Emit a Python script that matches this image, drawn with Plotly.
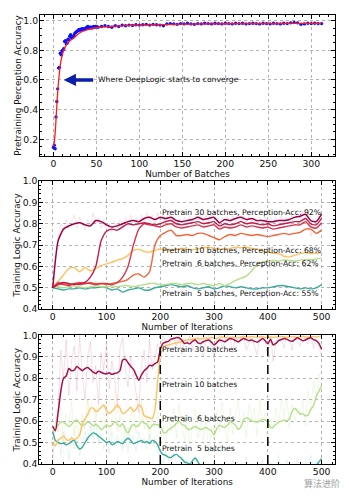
import numpy as np
import plotly.graph_objects as go

# ---------------- Panel 1: pretraining perception accuracy ----------------
batches_early = list(range(0, 51))
acc_early = [0.145, 0.16, 0.136, 0.35, 0.455, 0.54, 0.68, 0.685, 0.78, 0.77,
             0.795, 0.80, 0.81, 0.86, 0.865, 0.845, 0.85, 0.875, 0.87, 0.895,
             0.905, 0.885, 0.89, 0.89, 0.90, 0.915, 0.92, 0.925, 0.93, 0.935,
             0.94, 0.935, 0.94, 0.945, 0.94, 0.945, 0.94, 0.945, 0.95, 0.955,
             0.96, 0.955, 0.95, 0.955, 0.955, 0.95, 0.955, 0.96, 0.955, 0.96,
             0.96]
batches_late = list(range(52, 313, 4))
acc_late = [0.955, 0.96, 0.965, 0.96, 0.955, 0.965, 0.96, 0.97, 0.965, 0.97,
            0.968, 0.972, 0.97, 0.972, 0.975, 0.97, 0.975, 0.972, 0.97, 0.965,
            0.978, 0.98, 0.978, 0.975, 0.98, 0.978, 0.982, 0.978, 0.975, 0.98,
            0.978, 0.982, 0.98, 0.978, 0.982, 0.98, 0.978, 0.982, 0.98, 0.978,
            0.982, 0.98, 0.982, 0.978, 0.98, 0.982, 0.98, 0.978, 0.982, 0.98,
            0.978, 0.982, 0.98, 0.978, 0.982, 0.98, 0.985, 0.988, 0.985, 0.975,
            0.978, 0.982, 0.98, 0.982, 0.98, 0.98]
assert len(acc_early) == len(batches_early) and len(acc_late) == len(batches_late)

smooth_batches = [0, 1, 2, 3, 4, 5, 6, 7, 8, 9, 10, 12, 14, 16, 18, 20, 22, 25,
                  28, 30, 33, 36, 40, 45, 50, 55, 60, 70, 80, 90, 100, 120, 140,
                  160, 180, 200, 220, 240, 260, 280, 300, 312]
smooth_acc = [0.15, 0.18, 0.24, 0.33, 0.43, 0.52, 0.59, 0.65, 0.70, 0.735,
              0.76, 0.80, 0.825, 0.845, 0.858, 0.868, 0.876, 0.89, 0.905, 0.915,
              0.925, 0.932, 0.94, 0.947, 0.952, 0.955, 0.958, 0.962, 0.965, 0.968,
              0.97, 0.972, 0.975, 0.977, 0.978, 0.979, 0.98, 0.98, 0.98, 0.982,
              0.981, 0.981]

converge_point = (12, 0.6)
converge_text_x = 48

# ---------------- Panel 2: logic accuracy, pretrained perception ----------------
iters10 = np.arange(0, 501, 10)
p2_30 = [0.50, 0.72, 0.775, 0.79, 0.80, 0.805, 0.795, 0.79, 0.815, 0.81,
         0.795, 0.785, 0.79, 0.80, 0.81, 0.815, 0.81, 0.825, 0.83, 0.82,
         0.83, 0.825, 0.83, 0.815, 0.81, 0.815, 0.82, 0.83, 0.82, 0.825,
         0.83, 0.805, 0.82, 0.815, 0.825, 0.83, 0.82, 0.825, 0.815, 0.815,
         0.81, 0.81, 0.815, 0.815, 0.82, 0.83, 0.835, 0.845, 0.815, 0.81,
         0.845]
p2_20 = [0.50, 0.515, 0.525, 0.52, 0.515, 0.52, 0.525, 0.55, 0.60, 0.72,
         0.765, 0.775, 0.77, 0.785, 0.80, 0.795, 0.80, 0.805, 0.80, 0.795,
         0.80, 0.81, 0.815, 0.80, 0.795, 0.80, 0.805, 0.81, 0.80, 0.805,
         0.81, 0.79, 0.80, 0.795, 0.80, 0.81, 0.80, 0.805, 0.80, 0.795,
         0.80, 0.79, 0.795, 0.80, 0.805, 0.81, 0.81, 0.825, 0.80, 0.795,
         0.825]
p2_15 = [0.50, 0.52, 0.515, 0.51, 0.52, 0.515, 0.52, 0.52, 0.515, 0.52,
         0.52, 0.515, 0.525, 0.55, 0.60, 0.70, 0.775, 0.80, 0.795, 0.79,
         0.785, 0.795, 0.80, 0.785, 0.78, 0.785, 0.79, 0.795, 0.785, 0.79,
         0.795, 0.775, 0.785, 0.78, 0.785, 0.795, 0.785, 0.79, 0.785, 0.78,
         0.785, 0.775, 0.78, 0.785, 0.79, 0.795, 0.795, 0.81, 0.785, 0.78,
         0.805]
p2_8 = [0.50, 0.525, 0.52, 0.515, 0.52, 0.525, 0.52, 0.525, 0.52, 0.52,
        0.515, 0.52, 0.525, 0.53, 0.54, 0.56, 0.565, 0.55, 0.575, 0.70,
        0.745, 0.76, 0.77, 0.745, 0.745, 0.75, 0.745, 0.755, 0.755, 0.745,
        0.735, 0.725, 0.74, 0.75, 0.745, 0.755, 0.75, 0.745, 0.75, 0.745,
        0.74, 0.745, 0.75, 0.755, 0.75, 0.755, 0.76, 0.775, 0.775, 0.755,
        0.77]
p2_10 = [0.50, 0.53, 0.56, 0.59, 0.595, 0.575, 0.595, 0.58, 0.59, 0.605,
         0.612, 0.62, 0.63, 0.637, 0.652, 0.675, 0.68, 0.67, 0.667, 0.675,
         0.682, 0.678, 0.675, 0.68, 0.685, 0.68, 0.678, 0.683, 0.688, 0.69,
         0.685, 0.68, 0.682, 0.685, 0.69, 0.688, 0.69, 0.685, 0.68, 0.672,
         0.668, 0.662, 0.66, 0.648, 0.645, 0.652, 0.66, 0.665, 0.66, 0.662,
         0.665]
p2_6 = [0.50, 0.505, 0.50, 0.505, 0.51, 0.505, 0.50, 0.505, 0.51, 0.505,
        0.505, 0.51, 0.505, 0.51, 0.51, 0.505, 0.51, 0.515, 0.52, 0.52,
        0.515, 0.515, 0.52, 0.52, 0.515, 0.52, 0.52, 0.515, 0.52, 0.515,
        0.51, 0.52, 0.51, 0.52, 0.535, 0.545, 0.555, 0.58, 0.61, 0.62,
        0.625, 0.628, 0.625, 0.63, 0.628, 0.625, 0.63, 0.632, 0.632, 0.635,
        0.64]
p2_5 = [0.50, 0.495, 0.49, 0.495, 0.495, 0.50, 0.495, 0.50, 0.50, 0.505,
        0.50, 0.49, 0.495, 0.48, 0.49, 0.495, 0.50, 0.49, 0.49, 0.50,
        0.505, 0.51, 0.515, 0.51, 0.505, 0.51, 0.50, 0.495, 0.50, 0.505,
        0.495, 0.50, 0.51, 0.505, 0.50, 0.505, 0.50, 0.495, 0.495, 0.50,
        0.50, 0.505, 0.51, 0.51, 0.505, 0.50, 0.495, 0.50, 0.495, 0.50,
        0.515]

iters5 = np.arange(0, 501, 5)
p2_30_raw = [0.50, 0.62, 0.74, 0.80, 0.76, 0.82, 0.78, 0.81, 0.84, 0.78,
             0.83, 0.80, 0.77, 0.82, 0.79, 0.85, 0.80, 0.83, 0.78, 0.82,
             0.77, 0.80, 0.76, 0.81, 0.78, 0.82, 0.79, 0.83, 0.80, 0.84,
             0.79, 0.83, 0.80, 0.84, 0.81, 0.85, 0.81, 0.84, 0.80, 0.85,
             0.81, 0.84, 0.80, 0.86, 0.81, 0.83, 0.79, 0.82, 0.80, 0.83,
             0.79, 0.84, 0.81, 0.83, 0.82, 0.85, 0.80, 0.84, 0.81, 0.85,
             0.82, 0.79, 0.78, 0.83, 0.80, 0.83, 0.80, 0.84, 0.81, 0.85,
             0.81, 0.84, 0.80, 0.84, 0.81, 0.83, 0.80, 0.83, 0.80, 0.83,
             0.79, 0.83, 0.80, 0.83, 0.80, 0.84, 0.80, 0.83, 0.81, 0.84,
             0.82, 0.85, 0.82, 0.86, 0.83, 0.86, 0.74, 0.80, 0.78, 0.84,
             0.85]

p2_labels = [
    ("Pretrain 30 batches, Perception-Acc: 92%", 0.853),
    ("Pretrain 10 batches, Perception-Acc: 68%", 0.673),
    ("Pretrain  6 batches, Perception-Acc: 62%", 0.614),
    ("Pretrain  5 batches, Perception-Acc: 55%", 0.473),
]

# ---------------- Panel 3: logic accuracy, joint training ----------------
p3_30 = [0.575, 0.555, 0.64, 0.74, 0.80, 0.81, 0.845, 0.835, 0.838, 0.855,
         0.845, 0.835, 0.845, 0.85, 0.84, 0.828, 0.822, 0.832, 0.828, 0.822,
         0.82, 0.825, 0.818, 0.822, 0.825, 0.835, 0.885, 0.888, 0.872, 0.855,
         0.842, 0.815, 0.79, 0.815, 0.835, 0.845, 0.86, 0.858, 0.868, 0.875,
         0.935, 0.962, 0.968, 0.972, 0.982, 0.985, 0.99, 0.988, 0.978, 0.962,
         0.965, 0.96, 0.972, 0.978, 0.965, 0.962, 0.97, 0.975, 0.978, 0.968,
         0.955, 0.965, 0.978, 0.975, 0.97, 0.978, 0.985, 0.982, 0.975, 0.97,
         0.978, 0.985, 0.98, 0.975, 0.978, 0.972, 0.968, 0.975, 0.985, 0.975,
         0.96, 0.982, 0.955, 0.962, 0.975, 0.98, 0.985, 0.982, 0.975, 0.972,
         0.98, 0.988, 0.982, 0.975, 0.978, 0.985, 0.988, 0.98, 0.975, 0.962,
         0.935]
p3_10 = [0.50, 0.485, 0.51, 0.52, 0.53, 0.515, 0.51, 0.52, 0.515, 0.52,
         0.535, 0.585, 0.61, 0.63, 0.66, 0.66, 0.645, 0.65, 0.665, 0.675,
         0.65, 0.635, 0.645, 0.66, 0.675, 0.66, 0.635, 0.64, 0.652, 0.665,
         0.645, 0.655, 0.675, 0.665, 0.625, 0.62, 0.615, 0.612, 0.65, 0.78,
         0.905, 0.94, 0.952, 0.955, 0.958, 0.962, 0.965, 0.968, 0.97, 0.975,
         0.978, 0.98, 0.982, 0.985, 0.985, 0.982, 0.986, 0.988, 0.985, 0.99,
         0.988, 0.985, 0.99, 0.992, 0.99, 0.988, 0.99, 0.992, 0.99, 0.988,
         0.992, 0.994, 0.99, 0.992, 0.994, 0.992, 0.99, 0.992, 0.994, 0.99,
         0.988, 0.992, 0.99, 0.992, 0.994, 0.995, 0.993, 0.99, 0.992, 0.994,
         0.992, 0.99, 0.993, 0.995, 0.992, 0.99, 0.993, 0.995, 0.992, 0.995,
         0.997]
p3_6 = [0.55, 0.565, 0.58, 0.595, 0.595, 0.585, 0.575, 0.585, 0.60, 0.605,
        0.59, 0.578, 0.585, 0.595, 0.59, 0.578, 0.585, 0.575, 0.56, 0.57,
        0.582, 0.575, 0.58, 0.598, 0.585, 0.575, 0.588, 0.56, 0.545, 0.57,
        0.585, 0.575, 0.58, 0.60, 0.592, 0.585, 0.565, 0.58, 0.585, 0.582,
        0.58, 0.55, 0.545, 0.56, 0.568, 0.575, 0.59, 0.598, 0.585, 0.58,
        0.565, 0.56, 0.57, 0.575, 0.568, 0.56, 0.565, 0.57, 0.562, 0.555,
        0.535, 0.565, 0.58, 0.575, 0.57, 0.582, 0.595, 0.59, 0.58, 0.56,
        0.575, 0.605, 0.615, 0.61, 0.60, 0.598, 0.595, 0.60, 0.608, 0.605,
        0.595, 0.57, 0.572, 0.585, 0.595, 0.60, 0.605, 0.602, 0.61, 0.645,
        0.66, 0.648, 0.632, 0.635, 0.625, 0.628, 0.655, 0.672, 0.715, 0.74,
        0.765]
p3_5 = [0.55, 0.51, 0.50, 0.495, 0.497, 0.49, 0.495, 0.505, 0.51, 0.485,
        0.47, 0.478, 0.50, 0.52, 0.535, 0.545, 0.54, 0.53, 0.52, 0.51,
        0.50, 0.505, 0.49, 0.495, 0.505, 0.50, 0.495, 0.51, 0.52, 0.51,
        0.495, 0.50, 0.505, 0.51, 0.50, 0.505, 0.495, 0.51, 0.505, 0.49,
        0.46, 0.445, 0.44, 0.432, 0.43, 0.44, 0.445, 0.435, 0.425, 0.41,
        0.405, 0.40, 0.415, 0.428, 0.41, 0.39, 0.38, 0.375, 0.38, 0.37,
        0.365, 0.37, 0.375, 0.37, 0.365, 0.37, 0.375, 0.37, 0.365, 0.37,
        0.375, 0.38, 0.375, 0.37, 0.375, 0.38, 0.385, 0.38, 0.375, 0.37,
        0.375, 0.38, 0.385, 0.38, 0.375, 0.38, 0.385, 0.39, 0.385, 0.38,
        0.375, 0.38, 0.385, 0.38, 0.375, 0.38, 0.385, 0.39, 0.395, 0.41,
        0.425]

p3_30_raw = [0.42, 0.58, 0.66, 0.93, 0.80, 0.98, 0.72, 0.88, 0.95, 0.74,
             1.00, 0.82, 0.70, 0.90, 0.97, 0.78, 0.86, 0.68, 0.92, 0.84,
             0.96, 0.75, 0.88, 0.80, 0.66, 0.94, 0.99, 0.85, 0.76, 0.90,
             0.82, 0.72, 0.64, 0.86, 0.93, 0.78, 0.98, 0.84, 0.90, 0.96,
             0.92, 1.00, 0.97, 0.94, 1.00, 0.99, 0.95, 1.00, 0.91, 0.98,
             0.96, 1.00, 0.93, 0.99, 1.00, 0.95, 0.90, 0.98, 1.00, 0.96,
             0.89, 0.99, 1.00, 0.94, 0.97, 1.00, 0.98, 0.92, 1.00, 0.96,
             0.99, 1.00, 0.93, 0.97, 1.00, 0.95, 0.91, 0.99, 1.00, 0.97,
             0.90, 1.00, 0.88, 0.96, 1.00, 0.98, 0.94, 1.00, 0.99, 0.93,
             1.00, 0.97, 0.95, 1.00, 0.99, 0.96, 1.00, 0.94, 0.98, 0.95,
             0.90]
p3_10_raw = [0.46, 0.53, 0.50, 0.57, 0.45, 0.55, 0.52, 0.48, 0.58, 0.50,
             0.56, 0.62, 0.58, 0.70, 0.64, 0.72, 0.60, 0.68, 0.73, 0.62,
             0.58, 0.70, 0.66, 0.74, 0.63, 0.68, 0.57, 0.66, 0.71, 0.62,
             0.60, 0.70, 0.73, 0.64, 0.58, 0.66, 0.55, 0.63, 0.68, 0.86,
             0.93, 0.98, 0.95, 1.00, 0.96, 0.99, 0.97, 1.00, 0.96, 1.00,
             0.98, 0.99, 0.97, 1.00, 0.98, 1.00, 0.97, 0.99, 1.00, 0.98,
             0.99, 1.00, 0.97, 1.00, 0.99, 0.98, 1.00, 0.99, 0.97, 1.00,
             0.99, 1.00, 0.98, 1.00, 0.99, 0.97, 1.00, 0.99, 1.00, 0.98,
             1.00, 0.99, 0.98, 1.00, 0.99, 1.00, 0.97, 1.00, 0.99, 1.00,
             0.98, 1.00, 0.99, 1.00, 0.98, 1.00, 0.99, 1.00, 0.98, 1.00,
             0.99]
p3_6_raw = [0.52, 0.60, 0.55, 0.66, 0.50, 0.63, 0.58, 0.69, 0.53, 0.61,
            0.47, 0.64, 0.56, 0.70, 0.60, 0.52, 0.66, 0.49, 0.62, 0.57,
            0.67, 0.51, 0.60, 0.69, 0.55, 0.63, 0.48, 0.58, 0.45, 0.62,
            0.66, 0.54, 0.60, 0.70, 0.56, 0.63, 0.50, 0.61, 0.57, 0.64,
            0.48, 0.58, 0.46, 0.62, 0.55, 0.66, 0.52, 0.68, 0.59, 0.50,
            0.63, 0.47, 0.58, 0.65, 0.52, 0.60, 0.49, 0.62, 0.44, 0.57,
            0.51, 0.64, 0.55, 0.69, 0.58, 0.50, 0.66, 0.54, 0.62, 0.70,
            0.56, 0.64, 0.52, 0.68, 0.60, 0.66, 0.53, 0.70, 0.59, 0.64,
            0.50, 0.61, 0.56, 0.66, 0.58, 0.70, 0.62, 0.72, 0.57, 0.68,
            0.60, 0.66, 0.63, 0.70, 0.58, 0.74, 0.65, 0.79, 0.70, 0.82,
            0.74]
p3_5_raw = [0.56, 0.48, 0.52, 0.44, 0.55, 0.50, 0.42, 0.53, 0.47, 0.51,
            0.44, 0.49, 0.55, 0.50, 0.58, 0.53, 0.59, 0.50, 0.54, 0.47,
            0.52, 0.45, 0.55, 0.48, 0.53, 0.50, 0.46, 0.54, 0.57, 0.49,
            0.53, 0.46, 0.55, 0.50, 0.52, 0.47, 0.54, 0.49, 0.52, 0.45,
            0.44, 0.40, 0.46, 0.42, 0.38, 0.45, 0.41, 0.37, 0.43, 0.39,
            0.42, 0.36, 0.40, 0.44, 0.35, 0.39, 0.42, 0.34, 0.38, 0.36,
            0.41, 0.33, 0.38, 0.35, 0.40, 0.34, 0.37, 0.42, 0.33, 0.36,
            0.39, 0.34, 0.43, 0.35, 0.38, 0.33, 0.40, 0.36, 0.42, 0.34,
            0.37, 0.41, 0.35, 0.39, 0.44, 0.36, 0.38, 0.42, 0.35, 0.40,
            0.37, 0.43, 0.36, 0.39, 0.41, 0.37, 0.44, 0.38, 0.42, 0.40,
            0.45]

p3_labels = [
    ("Pretrain 30 batches", 0.936),
    ("Pretrain 10 batches", 0.772),
    ("Pretrain  6 batches", 0.612),
    ("Pretrain  5 batches", 0.473),
]
phase_marks = [200, 400]
label_x = 200

for arr in (p2_30, p2_20, p2_15, p2_8, p2_10, p2_6, p2_5):
    assert len(arr) == len(iters10)
for arr in (p2_30_raw, p3_30, p3_10, p3_6, p3_5,
            p3_30_raw, p3_10_raw, p3_6_raw, p3_5_raw):
    assert len(arr) == len(iters5), len(arr)

# ---------------- styling ----------------
FONT = "DejaVu Sans"
C30, C20, C15, C8 = "#9e0142", "#c51b4b", "#d8344c", "#f46438"
C10, C6, C5 = "#fdc262", "#b5df8a", "#3aaa9c"

fig = go.Figure()


def line(x, y, color, width, xa, ya, shape="spline"):
    fig.add_trace(go.Scatter(x=x, y=y, mode="lines", xaxis=xa, yaxis=ya,
                             line=dict(color=color, width=width, shape=shape,
                                       smoothing=0.6),
                             showlegend=False, hoverinfo="skip"))


# panel 1
fig.add_trace(go.Scatter(x=batches_early + batches_late, y=acc_early + acc_late,
                         mode="markers", xaxis="x", yaxis="y",
                         marker=dict(color="#1010ff", size=3.4),
                         showlegend=False))
line(smooth_batches, smooth_acc, "#ff1a1a", 1.3, "x", "y")

# panel 2
line(iters5, p2_30_raw, "rgba(205,80,120,0.2)", 0.8, "x2", "y2", shape="linear")
line(iters10, p2_5, C5, 1.4, "x2", "y2")
line(iters10, p2_6, C6, 1.4, "x2", "y2")
line(iters10, p2_10, C10, 1.4, "x2", "y2")
line(iters10, p2_8, C8, 1.4, "x2", "y2")
line(iters10, p2_15, C15, 1.4, "x2", "y2")
line(iters10, p2_20, C20, 1.4, "x2", "y2")
line(iters10, p2_30, C30, 1.5, "x2", "y2")

# panel 3
line(iters5, p3_5_raw, "rgba(58,170,156,0.15)", 0.8, "x3", "y3", shape="linear")
line(iters5, p3_6_raw, "rgba(181,223,138,0.25)", 0.8, "x3", "y3", shape="linear")
line(iters5, p3_10_raw, "rgba(253,194,98,0.15)", 0.8, "x3", "y3", shape="linear")
line(iters5, p3_30_raw, "rgba(200,70,120,0.22)", 0.8, "x3", "y3", shape="linear")
line(iters5, p3_5, C5, 1.4, "x3", "y3")
line(iters5, p3_6, C6, 1.4, "x3", "y3")
line(iters5, p3_10, C10, 1.4, "x3", "y3")
line(iters5, p3_30, "#a50f4a", 1.5, "x3", "y3")

common = dict(showline=True, linecolor="black", linewidth=1, mirror="ticks",
              ticks="inside", ticklen=4, tickwidth=0.8, tickcolor="black",
              showgrid=True, gridcolor="#b3b3b3", griddash="dot", gridwidth=0.8,
              zeroline=False, ticklabelstandoff=-1,
              tickfont=dict(family=FONT, size=9.3, color="#111"))
title_font = dict(family=FONT, size=8.8, color="#111")


def minor(step):
    return dict(ticks="inside", ticklen=2, tickcolor="black", dtick=step, tick0=0)


fig.update_layout(
    width=349, height=500, margin=dict(l=0, r=0, t=0, b=0),
    paper_bgcolor="white", plot_bgcolor="white",
    xaxis=dict(common, domain=[0.1146, 0.9599], range=[-15.6, 327.6],
               tickvals=[0, 50, 100, 150, 200, 250, 300], anchor="y",
               minor=minor(10),
               title=dict(text="Number of Batches", font=title_font, standoff=0)),
    yaxis=dict(common, domain=[0.694, 0.981], range=[0.09, 1.036],
               tickvals=[0.2, 0.4, 0.6, 0.8, 1.0], tickformat=".1f", anchor="x",
               minor=minor(0.05),
               title=dict(text="Pretraining Perception Accuracy", font=title_font, standoff=0)),
    xaxis2=dict(common, domain=[0.1126, 0.96], range=[-25, 525],
                tickvals=[0, 100, 200, 300, 400, 500], anchor="y2",
                minor=minor(20),
                title=dict(text="Number of Iterations", font=title_font, standoff=0)),
    yaxis2=dict(common, domain=[0.38, 0.642], range=[0.4, 1.0],
                tickvals=[0.4, 0.5, 0.6, 0.7, 0.8, 0.9, 1.0], tickformat=".1f", anchor="x2",
                minor=minor(0.02),
                title=dict(text="Training Logic Accuracy", font=title_font, standoff=0)),
    xaxis3=dict(common, domain=[0.1126, 0.96], range=[-25, 525],
                tickvals=[0, 100, 200, 300, 400, 500], anchor="y3",
                minor=minor(20),
                title=dict(text="Number of Iterations", font=title_font, standoff=0)),
    yaxis3=dict(common, domain=[0.0634, 0.3266], range=[0.4, 1.0],
                tickvals=[0.4, 0.5, 0.6, 0.7, 0.8, 0.9, 1.0], tickformat=".1f", anchor="x3",
                minor=minor(0.02),
                title=dict(text="Training Logic Accuracy", font=title_font, standoff=0)),
)

for xm in phase_marks:
    fig.add_shape(type="line", xref="x3", yref="y3", x0=xm, x1=xm, y0=0.4, y1=1.0,
                  line=dict(color="black", width=1.5, dash="dash"))

label_font = dict(family=FONT, size=7.7, color="#111")
fig.add_annotation(xref="x", yref="y", x=converge_point[0], y=converge_point[1],
                   axref="x", ayref="y", ax=converge_text_x, ay=converge_point[1],
                   showarrow=True, arrowhead=2, arrowsize=0.7, arrowwidth=3.5,
                   arrowcolor="#0b1fa8", text="")
fig.add_annotation(xref="x", yref="y", x=converge_text_x + 1, y=converge_point[1],
                   text="Where DeepLogic starts to converge", showarrow=False,
                   xanchor="left", yanchor="middle", font=label_font)
for txt, yv in p2_labels:
    fig.add_annotation(xref="x2", yref="y2", x=label_x, y=yv, text=txt,
                       showarrow=False, xanchor="left", yanchor="middle",
                       font=label_font)
for txt, yv in p3_labels:
    fig.add_annotation(xref="x3", yref="y3", x=label_x, y=yv, text=txt,
                       showarrow=False, xanchor="left", yanchor="middle",
                       font=label_font)

fig.add_annotation(xref="paper", yref="paper", x=322 / 349, y=1 - 488 / 500,
                   xanchor="center", yanchor="middle",
                   text="算法进阶", showarrow=False,
                   font=dict(family="Noto Sans CJK SC", size=9, color="#a0a0a0"))

fig.write_html("out.html")
